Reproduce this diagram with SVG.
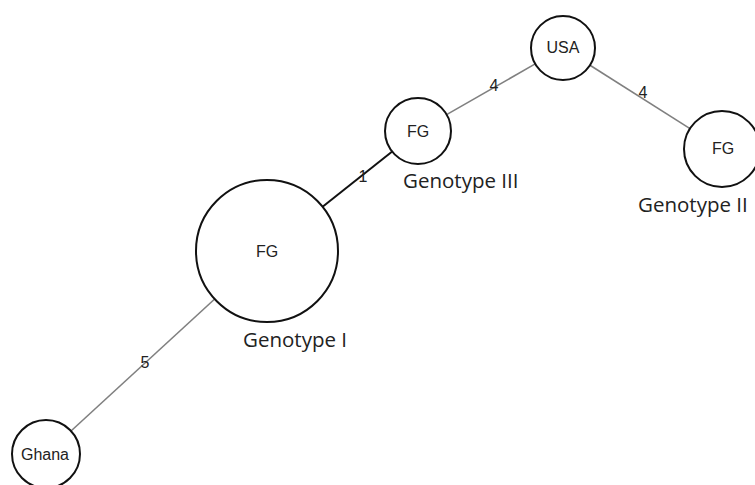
<svg xmlns="http://www.w3.org/2000/svg" width="755" height="485" viewBox="0 0 755 485">
<style>
.node{fill:#fff;stroke:#111;stroke-width:2}
.nl{font-family:"Liberation Sans",Arial,sans-serif;font-size:16px;fill:#222;text-anchor:middle}
.gl{font-family:"Open Sans","Noto Sans",sans-serif;font-size:20.5px;fill:#222}
.e{stroke:#808080;stroke-width:1.6;fill:none}
.eb{stroke:#111;stroke-width:2;fill:none}
.el{font-family:"Liberation Sans",Arial,sans-serif;font-size:16px;fill:#222;text-anchor:middle}
</style>
<rect width="755" height="485" fill="#fff"/>
<g id="connectors">
<line class="e" x1="71" y1="431" x2="214.7" y2="299"/>
<line class="eb" x1="322.6" y1="206.8" x2="392.2" y2="151.5"/>
<line class="e" x1="446.6" y1="114.6" x2="535.2" y2="63.9"/>
<line class="e" x1="590" y1="65.2" x2="690" y2="128.6"/>
<text class="el" x="145" y="368">5</text>
<text class="el" x="363" y="182">1</text>
<text class="el" x="494" y="91">4</text>
<text class="el" x="643" y="98">4</text>
</g>
<g id="ghana">
<circle class="node" cx="46" cy="454" r="34"/>
<text class="nl" x="45" y="460">Ghana</text>
</g>
<g id="genotype1">
<circle class="node" cx="267" cy="251" r="71"/>
<text class="nl" x="267" y="257">FG</text>
<text class="gl" x="243" y="347">Genotype I</text>
</g>
<g id="genotype3">
<circle class="node" cx="418" cy="131" r="33"/>
<text class="nl" x="418" y="137">FG</text>
<text class="gl" x="403" y="188">Genotype III</text>
</g>
<g id="usa">
<circle class="node" cx="563" cy="48" r="32"/>
<text class="nl" x="563" y="53">USA</text>
</g>
<g id="genotype2">
<circle class="node" cx="722" cy="149" r="38"/>
<text class="nl" x="723" y="154">FG</text>
<text class="gl" x="638" y="212">Genotype II</text>
</g>
</svg>
